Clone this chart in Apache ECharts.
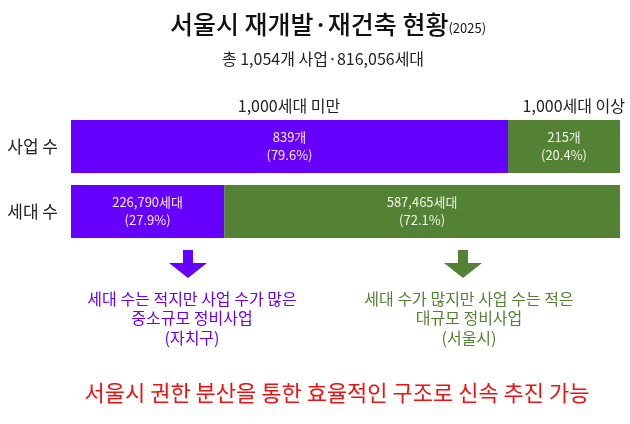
<!DOCTYPE html>
<html>
<head>
<meta charset="utf-8">
<script src="https://cdn.jsdelivr.net/npm/echarts@6/dist/echarts.min.js"></script>
<style>
  html, body { margin: 0; padding: 0; background: #fff; }
  #main { width: 630px; height: 424px; }
</style>
</head>
<body>
<div id="main"></div>
<script>
// 데이터
const categories = ['사업 수', '세대 수'];
const groupNames = ['1,000세대 미만', '1,000세대 이상'];
const smallPct = [79.6, 27.9];
const largePct = [20.4, 72.1];
const smallLabels = ['839개', '226,790세대'];
const largeLabels = ['215개', '587,465세대'];

const FONT = 'Noto Sans CJK KR';
const PURPLE = '#6600ff';
const GREEN = '#548235';
const RED = '#ee1111';

const chart = echarts.init(document.querySelector('#main'));

// 화살표 (아래 방향)
function arrow(cx, top, color) {
    return {
        type: 'polygon',
        shape: {
            points: [
                [cx - 5, top], [cx + 5, top], [cx + 5, top + 13],
                [cx + 19, top + 13], [cx, top + 28], [cx - 19, top + 13],
                [cx - 5, top + 13]
            ]
        },
        style: { fill: color }
    };
}

chart.setOption({
    textStyle: { fontFamily: FONT },
    title: [
        {
            text: '{a|서울시 재개발·재건축 현황}{b|(2025)}',
            left: 323,
            top: 7,
            textAlign: 'center',
            textStyle: {
                rich: {
                    a: { fontSize: 25, fontWeight: 500, color: '#111', fontFamily: FONT },
                    b: { fontSize: 13, fontWeight: 'normal', color: '#111', fontFamily: FONT, padding: [8, 0, 0, 0] }
                }
            }
        },
        {
            text: '총 1,054개 사업·816,056세대',
            left: 318,
            top: 46,
            textAlign: 'center',
            textStyle: { fontSize: 16, fontWeight: 'normal', color: '#222', fontFamily: FONT }
        },
        {
            text: groupNames[0],
            left: 284,
            top: 93,
            textAlign: 'center',
            textStyle: { fontSize: 16, fontWeight: 'normal', color: '#222', fontFamily: FONT }
        },
        {
            text: groupNames[1],
            left: 620,
            top: 93,
            textAlign: 'right',
            textStyle: { fontSize: 16, fontWeight: 'normal', color: '#222', fontFamily: FONT }
        },
        {
            text: '세대 수는 적지만 사업 수가 많은\n중소규모 정비사업\n(자치구)',
            left: 187,
            top: 284,
            textAlign: 'center',
            textStyle: { fontSize: 16, fontWeight: 'normal', color: PURPLE, lineHeight: 19.5, fontFamily: FONT }
        },
        {
            text: '세대 수가 많지만 사업 수는 적은\n대규모 정비사업\n(서울시)',
            left: 464,
            top: 284,
            textAlign: 'center',
            textStyle: { fontSize: 16, fontWeight: 'normal', color: GREEN, lineHeight: 19.5, fontFamily: FONT }
        },
        {
            text: '서울시 권한 분산을 통한 효율적인 구조로 신속 추진 가능',
            left: 332,
            top: 377,
            textAlign: 'center',
            textStyle: { fontSize: 22, fontWeight: 'normal', color: RED, fontFamily: FONT }
        }
    ],
    graphic: [
        arrow(188, 250, PURPLE),
        arrow(463, 250, GREEN)
    ],
    grid: {
        left: 71,
        right: 10,
        top: 114,
        bottom: 180
    },
    xAxis: {
        type: 'value',
        min: 0,
        max: 100,
        show: false
    },
    yAxis: {
        type: 'category',
        inverse: true,
        data: categories,
        axisLine: { show: false },
        axisTick: { show: false },
        axisLabel: { fontSize: 17, color: '#222', margin: 13, fontFamily: FONT }
    },
    series: [
        {
            name: groupNames[0],
            type: 'bar',
            stack: 'total',
            barWidth: 53,
            itemStyle: { color: PURPLE },
            label: {
                show: true,
                position: 'inside',
                color: '#f4ecff',
                fontSize: 13,
                lineHeight: 18,
                formatter: p => smallLabels[p.dataIndex] + '\n(' + p.value.toFixed(1) + '%)'
            },
            data: smallPct
        },
        {
            name: groupNames[1],
            type: 'bar',
            stack: 'total',
            barWidth: 53,
            itemStyle: { color: GREEN },
            label: {
                show: true,
                position: 'inside',
                color: '#eef5e8',
                fontSize: 13,
                lineHeight: 18,
                formatter: p => largeLabels[p.dataIndex] + '\n(' + p.value.toFixed(1) + '%)'
            },
            data: largePct
        }
    ]
});
</script>
</body>
</html>
